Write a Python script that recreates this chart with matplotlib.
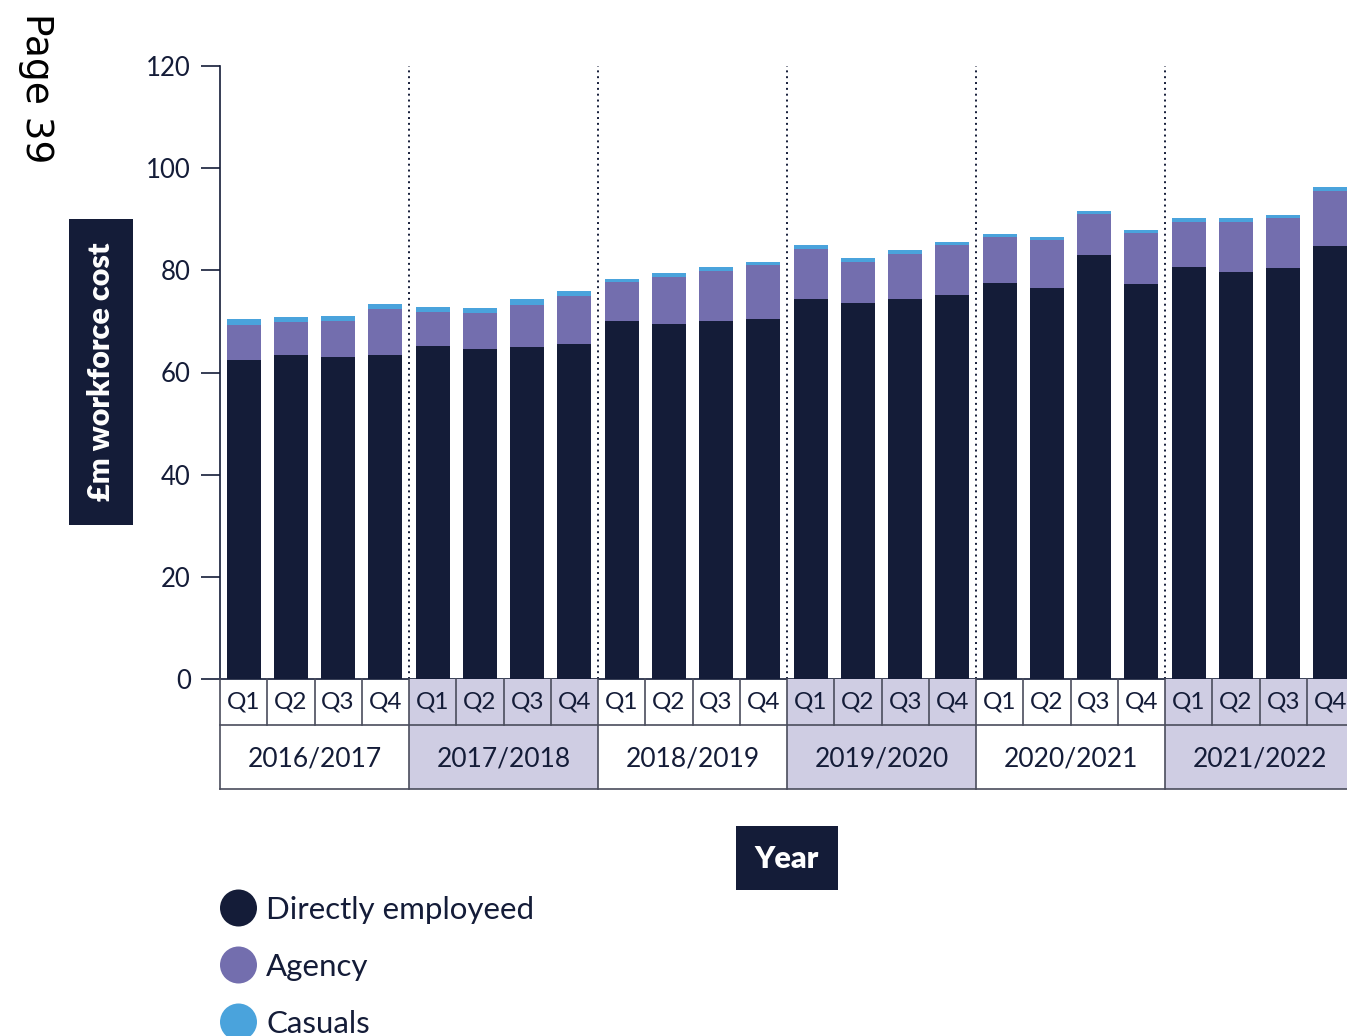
import matplotlib
matplotlib.use("Agg")
import matplotlib.pyplot as plt
from matplotlib.patches import Rectangle, Ellipse
import numpy as np

plt.rcParams['font.family'] = ['Lato', 'DejaVu Sans']

# Quarterly workforce cost (£m) by staff type
years = ["2016/2017", "2017/2018", "2018/2019", "2019/2020", "2020/2021", "2021/2022"]
quarters = ["Q1", "Q2", "Q3", "Q4"]
directly_employed = [62.4, 63.4, 63.0, 63.4, 65.2, 64.6, 65.0, 65.6,
                     70.1, 69.5, 70.1, 70.5, 74.4, 73.6, 74.4, 75.2,
                     77.5, 76.5, 83.0, 77.3, 80.7, 79.7, 80.5, 84.8]
agency = [6.9, 6.5, 7.1, 9.0, 6.6, 7.0, 8.2, 9.4,
          7.6, 9.2, 9.8, 10.5, 9.8, 8.0, 8.8, 9.8,
          9.0, 9.4, 8.0, 10.0, 8.7, 9.7, 9.7, 10.7]
casuals = [1.2, 1.0, 1.0, 1.0, 1.0, 1.0, 1.2, 1.0,
           0.6, 0.8, 0.8, 0.6, 0.8, 0.8, 0.8, 0.5,
           0.6, 0.6, 0.6, 0.6, 0.8, 0.8, 0.6, 0.8]
y_ticks = [0, 20, 40, 60, 80, 100, 120]

NAVY = "#141c38"
PURPLE = "#736eae"
BLUE = "#4aa3dc"
SHADE = "#cfcde3"
GRID = "#4a4d5c"

W, H = 1347, 1036
fig = plt.figure(figsize=(W / 100, H / 100), dpi=100)


def fx(x):
    return x / W


def fy(y):
    return 1 - y / H


# main plotting area; the right end runs past the page edge
ax_left, ax_right = 220, 1354
ax = fig.add_axes([fx(ax_left), fy(679), fx(ax_right - ax_left), fy(66) - fy(679)])

n = len(directly_employed)
x = np.arange(n)
de = np.array(directly_employed)
ag = np.array(agency)
ca = np.array(casuals)
bw = 0.72
ax.bar(x, de, width=bw, color=NAVY, zorder=2)
ax.bar(x, ag, width=bw, bottom=de, color=PURPLE, zorder=2)
ax.bar(x, ca, width=bw, bottom=de + ag, color=BLUE, zorder=2)

ax.set_xlim(-0.5, n - 0.5)
ax.set_ylim(0, 120)
ax.set_yticks(y_ticks)
ax.set_xticks([])
for s in ["top", "right"]:
    ax.spines[s].set_visible(False)
ax.spines["left"].set_color(NAVY)
ax.spines["bottom"].set_color(NAVY)
ax.spines["left"].set_linewidth(1.2)
ax.spines["bottom"].set_linewidth(1.2)
ax.tick_params(axis="y", direction="out", length=14, width=1.2, color=NAVY,
               labelsize=18.5, labelcolor=NAVY, pad=7)

# dotted separators between financial years
for b in range(1, len(years)):
    ax.axvline(4 * b - 0.5, color=NAVY, linestyle=(0, (1, 2)), linewidth=1.4, zorder=1)

# category table below the axis
tab = fig.add_axes([fx(ax_left), fy(789), fx(ax_right - ax_left), fy(679) - fy(789)])
tab.set_xlim(-0.5, n - 0.5)
tab.set_ylim(110, 0)
tab.axis("off")
for i, yr in enumerate(years):
    x0 = 4 * i - 0.5
    if i % 2 == 1:
        tab.add_patch(Rectangle((x0, 0), 4, 110, facecolor=SHADE, edgecolor="none"))
    tab.text(x0 + 2, 80, yr, ha="center", va="center", fontsize=19, color=NAVY)
    for q, ql in enumerate(quarters):
        tab.text(x0 + q + 0.5, 23, ql, ha="center", va="center", fontsize=17.5, color=NAVY)
for k in range(n + 1):
    xb = k - 0.5
    top_only = (k % 4 != 0)
    tab.plot([xb, xb], [0, 46 if top_only else 110], color=GRID, lw=1.2, clip_on=False)
tab.plot([-0.5, n - 0.5], [46, 46], color=GRID, lw=1.2, clip_on=False)
tab.plot([-0.5, n - 0.5], [110, 110], color=GRID, lw=1.2, clip_on=False)

# y-axis title box
fig.patches.append(Rectangle((fx(69), fy(525)), fx(133 - 69), fy(219) - fy(525),
                             transform=fig.transFigure, facecolor=NAVY, edgecolor="none"))
fig.text(fx(101), fy(372), "£m workforce cost", rotation=90, ha="center", va="center",
         color="white", fontsize=22, fontweight="heavy")

# x-axis title box
fig.patches.append(Rectangle((fx(736), fy(890)), fx(838 - 736), fy(826) - fy(890),
                             transform=fig.transFigure, facecolor=NAVY, edgecolor="none"))
fig.text(fx(787), fy(859), "Year", ha="center", va="center",
         color="white", fontsize=22, fontweight="heavy")

# page marker
fig.text(fx(36), fy(88), "Page 39", rotation=-90, ha="center", va="center",
         color="black", fontsize=27, family="DejaVu Sans")

# legend
legend_items = [("Directly employeed", NAVY), ("Agency", PURPLE), ("Casuals", BLUE)]
for j, (lab, col) in enumerate(legend_items):
    cy = 908 + j * 57
    fig.patches.append(Ellipse((fx(238.5), fy(cy)), fx(37), 37 / H,
                               transform=fig.transFigure, facecolor=col, edgecolor="none"))
    fig.text(fx(266), fy(cy + 2), lab, ha="left", va="center", color=NAVY, fontsize=22.5)

fig.savefig("out.png", dpi=100)
